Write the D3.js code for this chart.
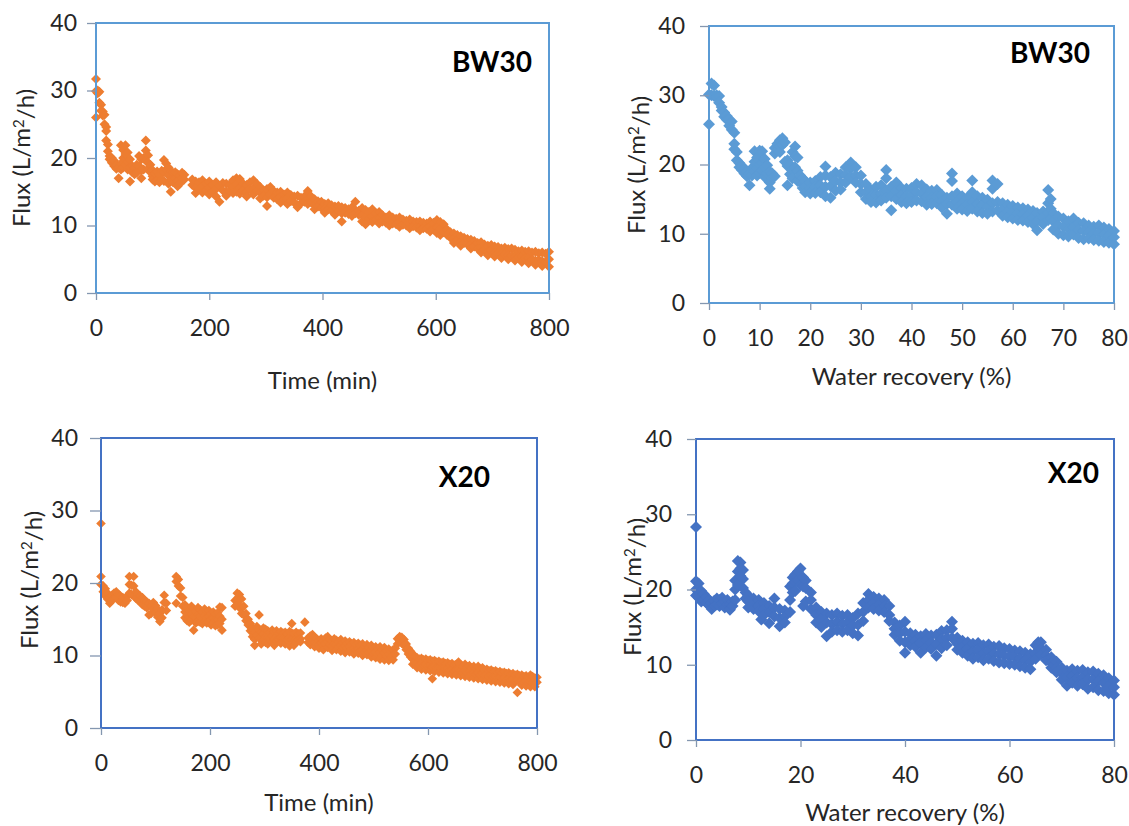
<!DOCTYPE html>
<html>
<head>
<meta charset="utf-8">
<script src="https://d3js.org/d3.v7.min.js"></script>
<style>
  body { margin: 0; background: #fff; }
  svg text { font-family: Lato, "Open Sans", sans-serif; fill: #262626; }
</style>
</head>
<body>
<div id="chart"></div>
<script>
// each row: [x, flux readings at that x ...]
const bw30Time = [
  [0, 31.7, 26.0, 29.9], [3, 30.0, 29.6], [6, 29.8, 28.2], [9, 27.9, 27.0], [12, 26.9, 26.3],
  [15, 26.4, 25.0], [18, 24.6, 24.0, 22.6], [21, 22.0, 21.0], [24, 20.3, 19.8], [28, 20.0, 19.3],
  [32, 19.6, 18.8], [36, 19.0, 18.4], [40, 18.6, 17.0], [44, 21.9, 19.2, 18.3], [48, 21.2, 20.0, 18.6],
  [52, 21.9, 20.6, 19.0], [56, 20.8, 19.4, 18.3], [60, 19.8, 18.6, 16.5], [64, 18.8, 17.9], [68, 18.5, 17.6],
  [72, 19.0, 17.8], [76, 20.3, 18.8], [80, 19.8, 17.0, 18.2], [84, 20.0, 18.3], [88, 22.6, 21.1, 19.6],
  [92, 20.4, 19.3, 18.4], [96, 19.0, 17.9], [100, 18.2, 17.3, 16.8], [104, 17.7, 16.5], [108, 18.0, 16.7],
  [112, 17.5, 16.4], [116, 18.1, 16.8], [120, 19.7, 17.9, 16.6], [124, 19.2, 18.3], [128, 18.6, 17.4, 16.2],
  [132, 18.0, 16.8, 15.0], [136, 17.8, 16.4], [140, 17.9, 17.0], [144, 17.6, 16.6, 15.8], [148, 17.4, 16.2],
  [152, 17.8, 17.0], [156, 17.5, 16.8],
  [170, 16.8, 16.0], [176, 16.5, 15.6, 14.8], [182, 16.4, 15.4], [188, 16.7, 15.8, 14.9], [194, 16.2, 15.2],
  [200, 16.5, 15.6, 14.6], [206, 16.0, 15.0], [212, 16.4, 15.4, 14.3], [218, 15.9, 13.5], [224, 16.3, 15.2],
  [230, 16.2, 15.0, 14.4], [236, 16.0, 15.1], [242, 16.7, 15.7, 14.8], [248, 17.0, 16.1, 15.0], [254, 16.9, 15.6, 14.7],
  [260, 16.2, 15.2], [266, 16.0, 15.0, 14.3], [272, 16.4, 15.4], [278, 16.7, 15.5, 14.6], [284, 16.2, 15.1],
  [290, 15.7, 14.9, 14.0], [296, 15.2, 14.4], [302, 15.4, 14.2, 12.9], [308, 15.7, 14.6], [314, 15.1, 14.1],
  [320, 14.9, 13.9], [326, 15.0, 14.2, 13.4], [332, 14.6, 13.8], [338, 14.9, 14.0, 13.2], [344, 14.5, 13.6],
  [350, 14.3, 13.4], [356, 14.4, 13.0, 12.7], [362, 14.1, 13.3], [368, 14.3, 13.5], [374, 15.1, 14.0, 13.2],
  [380, 14.3, 13.4], [386, 13.9, 13.0, 12.4], [392, 13.6, 12.8], [398, 13.5, 12.6], [404, 13.2, 12.5, 11.9],
  [410, 13.3, 12.4], [416, 13.0, 12.2], [422, 12.8, 12.0, 11.6], [428, 12.9, 12.2], [434, 12.7, 11.8, 10.6],
  [440, 12.6, 11.9], [446, 12.4, 11.7], [452, 12.7, 12.0, 11.4], [458, 13.5, 12.3, 11.8], [464, 12.2, 11.6],
  [470, 12.6, 11.5, 10.6], [476, 12.3, 11.2, 10.2], [482, 12.0, 11.0], [488, 12.4, 11.3, 10.5], [494, 11.8, 10.9],
  [500, 12.0, 11.1, 10.3], [506, 11.5, 10.6], [512, 11.2, 10.4], [518, 11.5, 10.7, 10.0], [524, 11.2, 10.3],
  [530, 11.0, 10.2], [536, 11.2, 10.5, 9.8], [542, 10.9, 10.1], [548, 10.7, 10.0], [554, 10.9, 10.2, 9.6],
  [560, 10.6, 9.9], [566, 10.5, 9.7], [572, 10.6, 9.9, 9.3], [578, 10.4, 9.6], [584, 10.3, 9.5],
  [590, 10.6, 9.8, 9.1], [596, 10.4, 9.4], [602, 10.8, 9.7, 8.9], [608, 10.5, 9.5, 8.6], [614, 10.2, 9.0],
  [620, 9.4, 8.6], [626, 9.0, 8.2], [632, 8.8, 8.0, 7.4], [638, 8.6, 7.8], [644, 8.4, 7.6, 7.0],
  [650, 8.2, 7.4], [656, 8.0, 7.2], [662, 7.9, 7.1, 6.6], [668, 7.7, 6.9], [674, 7.4, 6.6],
  [680, 7.5, 6.7, 6.0], [686, 7.2, 6.4], [692, 7.0, 6.2, 5.6], [698, 7.1, 6.3], [704, 6.9, 6.0, 5.4],
  [710, 6.8, 5.9], [716, 6.6, 5.8, 5.2], [722, 6.7, 5.7], [728, 6.5, 5.6, 5.0], [734, 6.6, 5.5],
  [740, 6.4, 5.4, 4.8], [746, 6.2, 5.3], [752, 6.3, 5.4, 4.6], [758, 6.1, 5.1], [764, 6.2, 5.2, 4.4],
  [770, 6.0, 5.0], [776, 6.1, 4.8, 4.2], [782, 5.9, 4.9], [788, 6.0, 4.7, 4.0], [794, 5.8, 4.6],
  [800, 6.1, 5.0, 3.9]
];

const bw30Recovery = [
  [0, 25.8, 30.1], [0.5, 31.7, 30.0], [1, 31.4, 29.9], [1.5, 30.0, 29.7], [2, 29.9, 28.9],
  [2.5, 28.3, 27.8], [3, 27.5, 26.9], [3.5, 27.0, 26.5], [4, 26.5, 25.6], [4.5, 26.2, 25.0],
  [5, 24.6, 23.0, 22.2], [5.5, 21.8, 20.6], [6, 20.2, 19.6], [6.5, 19.8, 19.2], [7, 19.4, 18.7],
  [7.5, 18.9, 18.3], [8, 18.6, 17.0], [8.5, 19.5, 18.4], [9, 21.9, 20.4, 19.0], [9.5, 21.0, 19.5, 18.4],
  [10, 22.0, 20.0, 18.8], [10.5, 21.9, 20.2, 19.1], [11, 20.8, 19.6, 18.2], [11.5, 19.9, 18.7], [12, 19.0, 17.4, 16.5],
  [12.5, 18.7, 18.0], [13, 22.4, 21.6, 18.3], [13.5, 23.0, 22.1], [14, 23.5, 22.6, 21.8], [14.5, 23.8, 22.8],
  [15, 23.2, 20.4], [15.5, 20.6, 19.8, 17.0], [16, 20.0, 18.6], [16.5, 21.8, 19.2, 18.0], [17, 22.6, 21.2, 19.6],
  [17.5, 21.0, 19.1, 17.6], [18, 18.4, 17.6], [18.5, 18.0, 17.2, 16.6], [19, 17.6, 16.8, 16.0], [20, 17.4, 16.5, 15.8],
  [21, 17.6, 16.8, 15.9], [22, 18.2, 17.0, 16.0], [23, 19.7, 18.4, 16.8, 15.4], [24, 18.2, 16.9, 15.2], [25, 18.8, 17.6, 16.2],
  [26, 18.6, 17.4, 16.4], [27, 19.6, 18.5, 17.4], [28, 20.3, 19.4, 18.2], [29, 19.6, 18.4, 17.4], [30, 18.4, 17.2, 16.0],
  [31, 17.2, 16.0, 15.0], [32, 16.3, 15.4, 14.6], [33, 16.8, 15.6, 14.5], [34, 17.0, 15.8, 14.8], [35, 19.2, 18.0, 16.2, 15.2],
  [36, 16.8, 15.4, 13.4], [37, 17.4, 16.2, 15.0], [38, 16.6, 15.6, 14.6], [39, 16.5, 15.4, 14.4], [40, 16.6, 15.6, 14.6],
  [41, 17.2, 16.0, 14.8], [42, 17.0, 15.8, 14.7], [43, 16.4, 15.3, 14.2], [44, 16.2, 15.2, 14.3], [45, 16.3, 15.4, 14.4],
  [46, 15.6, 14.7, 13.8], [47, 15.2, 14.3, 12.9], [48, 18.7, 17.6, 15.4, 14.2], [49, 15.8, 14.6, 13.6], [50, 15.4, 14.4, 13.5],
  [51, 15.2, 14.2, 13.3], [52, 17.7, 16.0, 14.6, 13.6], [53, 15.4, 14.3, 13.2], [54, 15.2, 14.1, 13.0], [55, 14.9, 13.9, 12.9],
  [56, 17.7, 16.5, 14.4, 13.2], [57, 17.2, 14.6, 13.4], [58, 14.4, 13.5, 12.6], [59, 14.2, 13.2, 12.4], [60, 14.0, 13.1, 12.2],
  [61, 13.8, 12.9, 12.0], [62, 13.7, 12.8, 11.9], [63, 13.5, 12.6, 11.7], [64, 13.3, 12.4, 11.4], [64.8, 13.0, 11.8, 10.5],
  [66, 13.2, 12.3, 11.4], [67, 16.3, 14.4, 13.0, 12.0], [67.5, 15.0, 13.6, 12.2], [68, 13.0, 11.8, 10.6], [69, 12.5, 11.2, 10.0],
  [70, 12.2, 11.0, 9.8], [71, 11.8, 10.7, 9.6], [72, 12.2, 11.0, 9.9], [73, 11.6, 10.5, 9.4], [74, 11.5, 10.4, 9.2],
  [75, 11.2, 10.2, 9.3], [76, 11.0, 10.0, 9.1], [77, 11.2, 10.1, 9.0], [78, 10.9, 9.9, 8.8], [79, 10.7, 9.7, 8.7],
  [80, 10.4, 9.5, 8.5]
];

const x20Time = [
  [0, 28.2, 20.9, 19.8], [4, 19.6, 18.8], [8, 19.2, 18.2], [12, 18.6, 17.8], [16, 18.0, 17.2],
  [20, 18.3, 17.6], [24, 18.6, 17.9], [28, 18.8, 18.0], [32, 18.4, 17.6], [36, 18.2, 17.4],
  [40, 18.0, 17.3], [44, 17.8, 17.2], [48, 18.2, 17.6], [52, 20.9, 19.8, 18.6], [56, 19.7, 18.4],
  [60, 20.9, 19.6, 18.2], [64, 18.8, 17.9], [68, 18.4, 17.6], [72, 18.2, 17.4], [76, 18.0, 17.0],
  [80, 17.6, 16.8], [84, 17.4, 16.6], [88, 17.2, 15.6], [92, 16.8, 15.8], [96, 17.3, 16.4],
  [100, 16.9, 15.9], [104, 16.4, 15.3], [108, 15.8, 14.7], [112, 16.3, 15.2], [116, 18.3, 17.3],
  [120, 17.2, 16.2],
  [138, 20.9, 20.2, 17.2], [142, 20.5, 19.6], [146, 19.3, 18.2], [150, 18.0, 16.8], [154, 17.0, 16.0, 15.2],
  [158, 16.6, 15.6, 14.8], [162, 16.2, 15.3, 14.6], [166, 16.8, 15.7, 14.9], [170, 16.4, 15.4, 13.5], [174, 16.1, 15.2, 14.5],
  [178, 16.6, 15.6, 14.7], [182, 16.3, 15.4, 14.6], [186, 16.0, 15.1, 14.4], [190, 16.4, 15.5, 14.7], [194, 16.1, 15.2, 14.5],
  [198, 16.2, 15.4, 14.6], [202, 15.8, 15.0, 14.2], [206, 16.0, 15.2, 14.4], [210, 15.7, 14.9, 14.1], [214, 15.9, 15.0, 14.2],
  [218, 16.7, 15.4, 14.4], [222, 16.6, 15.0, 13.5],
  [246, 17.6, 16.8], [250, 18.6, 17.8, 17.0], [254, 18.4, 17.6, 16.6], [258, 17.8, 16.6, 15.8], [262, 16.8, 15.6],
  [266, 15.8, 14.8], [270, 15.0, 14.2], [274, 14.4, 13.4], [278, 13.8, 12.6], [282, 13.2, 12.2, 11.4],
  [286, 14.0, 12.8], [290, 15.6, 13.6, 12.4], [294, 13.2, 12.2, 11.6], [298, 13.8, 13.0, 12.2], [302, 13.6, 12.6, 11.8],
  [306, 13.4, 12.5, 11.6], [310, 13.2, 12.4], [314, 13.5, 12.7, 11.9], [318, 13.2, 12.3, 11.4], [322, 13.4, 12.6, 12.0],
  [326, 13.0, 12.2], [330, 13.3, 12.5, 11.7], [334, 13.1, 12.4], [338, 13.2, 12.3, 11.6], [342, 13.0, 12.1],
  [346, 13.3, 12.4, 11.3], [350, 14.4, 13.1, 12.2], [354, 13.0, 12.0, 11.4], [358, 13.2, 12.2, 11.8], [362, 13.0, 12.1],
  [366, 13.1, 12.3, 11.9], [374, 14.6], [380, 12.4, 11.8], [384, 12.7, 12.0, 11.5], [388, 12.9, 12.2, 11.7],
  [392, 12.5, 11.8, 11.2], [396, 12.3, 11.6], [400, 12.1, 11.5, 11.0], [404, 12.3, 11.7], [408, 12.0, 11.4, 10.8],
  [412, 12.4, 11.6], [416, 12.6, 11.9, 11.1], [420, 12.2, 11.5], [424, 12.0, 11.3, 10.7], [428, 12.3, 11.6],
  [432, 12.1, 11.4, 10.8], [436, 11.9, 11.2], [440, 12.2, 11.4, 10.6], [444, 11.8, 11.1], [448, 12.0, 11.3, 10.4],
  [452, 11.7, 11.0], [456, 11.9, 11.2, 10.5], [460, 11.6, 10.9], [464, 11.8, 11.0, 10.2], [468, 11.5, 10.8],
  [472, 11.7, 10.9, 10.3], [476, 11.4, 10.7], [480, 11.6, 10.8, 10.0], [484, 11.2, 10.5], [488, 11.5, 10.7, 10.1],
  [492, 11.1, 10.4], [496, 11.4, 10.6, 9.8], [500, 11.0, 10.3], [504, 11.2, 10.5, 9.7], [508, 10.9, 10.2],
  [512, 11.2, 10.4, 9.5], [516, 10.8, 10.0], [520, 11.1, 10.3, 9.4], [524, 10.7, 9.9], [528, 10.9, 10.2, 9.3],
  [532, 10.6, 9.8], [536, 10.8, 10.0, 9.4], [540, 11.0, 10.2], [544, 12.3, 11.6], [548, 12.6, 12.0],
  [552, 12.5, 11.7], [556, 12.2, 11.4], [560, 11.6, 10.8], [564, 11.0, 10.2], [568, 10.6, 9.8],
  [572, 10.2, 9.5, 8.8], [576, 9.9, 9.2], [580, 9.7, 8.9, 8.3], [584, 9.5, 8.7], [588, 9.6, 8.9, 8.1],
  [592, 9.4, 8.6], [596, 9.5, 8.8, 8.0], [600, 9.3, 8.5], [604, 9.4, 8.6, 7.9], [608, 9.2, 8.4, 6.8],
  [612, 9.3, 8.5, 7.8], [616, 9.1, 8.3], [620, 9.2, 8.4, 7.7], [624, 9.0, 8.2], [628, 9.1, 8.3, 7.6],
  [632, 8.9, 8.1], [636, 9.0, 8.2, 7.5], [640, 8.8, 8.0], [644, 8.9, 8.1, 7.4], [648, 8.7, 7.9],
  [652, 8.8, 8.0, 7.3], [656, 9.1, 8.1], [660, 8.7, 7.9, 7.2], [664, 8.5, 7.7], [668, 8.8, 7.9, 7.1],
  [672, 8.4, 7.6], [676, 8.6, 7.8, 7.0], [680, 8.3, 7.5], [684, 8.5, 7.7, 6.9], [688, 8.2, 7.4],
  [692, 8.5, 7.6, 6.8], [696, 8.1, 7.3], [700, 8.3, 7.5, 6.7], [704, 8.0, 7.2], [708, 8.1, 7.3, 6.6],
  [712, 7.9, 7.1], [716, 8.0, 7.2, 6.5], [720, 7.8, 7.0], [724, 7.9, 7.1, 6.4], [728, 7.7, 6.9],
  [732, 7.8, 7.0, 6.3], [736, 7.6, 6.8], [740, 7.7, 6.9, 6.2], [744, 7.5, 6.7], [748, 7.6, 6.8, 6.1],
  [752, 7.4, 6.6], [756, 7.5, 6.7, 6.0], [760, 7.3, 6.5], [764, 7.4, 6.6, 4.9], [768, 7.2, 6.4],
  [772, 7.3, 6.5, 5.9], [776, 7.1, 6.3], [780, 7.2, 6.4, 5.8], [784, 7.0, 6.2], [788, 7.3, 6.3, 5.7],
  [792, 7.1, 6.2], [796, 6.9, 6.1, 5.7], [800, 7.0, 6.3]
];

const x20Recovery = [
  [0, 28.3, 21.1, 20.0, 19.2], [0.5, 20.8, 19.6, 18.9], [1, 19.8, 19.0, 18.4], [1.5, 19.4, 18.6], [2, 19.0, 18.2],
  [2.5, 18.6, 17.9], [3, 18.2, 17.4], [3.5, 18.5, 17.8], [4, 18.8, 18.0], [4.5, 18.6, 17.8],
  [5, 18.9, 18.1], [5.5, 18.4, 17.6], [6, 18.6, 17.9], [6.5, 18.0, 17.3], [7, 18.4, 17.8],
  [7.5, 21.2, 20.0, 18.6], [8, 23.8, 22.4, 20.6], [8.5, 23.6, 22.8, 21.8], [9, 22.6, 21.4, 20.2], [9.5, 19.6, 18.8],
  [10, 19.2, 18.4, 17.6], [11, 18.8, 18.0, 17.4], [12, 18.6, 17.8, 17.1], [12.5, 16.0], [13, 18.2, 17.4, 16.6],
  [14, 17.8, 17.0, 15.5], [15, 18.8, 17.6, 16.4], [16, 17.4, 16.2, 15.1], [17, 17.2, 16.4, 15.6], [18, 20.4, 18.6, 17.0],
  [18.5, 21.6, 20.8, 19.6], [19, 22.0, 21.0, 19.8], [19.5, 22.4, 21.2], [20, 22.8, 21.6, 20.6], [20.5, 21.6, 20.4, 17.8],
  [21, 21.2, 20.2, 18.4], [22, 19.6, 18.6, 17.4], [23, 17.6, 16.6, 15.6], [24, 17.0, 16.0, 15.0], [25, 16.8, 15.6, 13.8],
  [26, 16.6, 15.4, 14.4], [27, 16.8, 15.7, 14.6], [28, 16.5, 15.4, 14.4], [29, 16.6, 15.6, 14.6], [30, 16.2, 15.2, 14.2],
  [31, 16.8, 15.3, 13.9], [32, 18.2, 17.0, 15.8], [33, 19.4, 18.6, 17.6], [34, 19.0, 18.2, 17.4], [35, 18.8, 18.0, 17.2],
  [36, 18.6, 17.8, 17.0], [37, 17.8, 16.6, 15.8], [38, 15.6, 14.8, 14.0], [39, 15.2, 14.2, 13.2], [40, 15.7, 14.4, 13.0, 11.6],
  [41, 14.2, 13.4, 12.6], [42, 14.0, 13.2, 12.4], [43, 13.8, 12.9, 11.6], [44, 14.1, 13.2, 12.3], [45, 13.9, 13.0, 12.1],
  [46, 14.0, 12.8, 11.2], [47, 14.5, 13.4, 12.2], [48, 14.6, 13.6, 12.6], [49, 15.7, 14.8, 13.6], [50, 13.6, 12.8, 12.0],
  [51, 13.2, 12.4, 11.6], [52, 13.0, 12.1, 11.2], [53, 12.8, 11.8, 10.8], [54, 12.9, 12.0, 11.0], [55, 12.6, 11.6, 10.6],
  [56, 12.7, 11.8, 10.8], [57, 12.4, 11.5, 10.5], [58, 12.5, 11.4, 10.3], [59, 12.2, 11.2, 10.2], [60, 12.1, 11.1, 10.1],
  [61, 11.9, 11.0, 10.0], [62, 11.8, 10.8, 9.8], [63, 11.6, 10.6, 9.6], [64, 11.4, 10.4, 9.4], [65, 12.6, 11.6, 10.8],
  [65.5, 13.0, 12.3], [66, 13.0, 12.2, 11.4], [67, 12.0, 11.2, 10.6], [68, 11.0, 10.2, 9.6], [69, 10.4, 9.6, 9.0],
  [70, 9.6, 8.8, 8.0], [71, 9.2, 8.3, 7.2], [72, 9.4, 8.5, 7.6], [73, 9.2, 8.2, 7.2], [74, 9.3, 8.3, 7.4],
  [75, 9.0, 8.0, 6.8], [76, 9.1, 8.1, 7.0], [77, 8.8, 7.8, 6.6], [78, 8.6, 7.6, 6.5], [79, 8.2, 7.2, 6.2],
  [80, 7.9, 7.0, 6.0]
];

const yTicks = [0, 10, 20, 30, 40];
const timeTicks = [0, 200, 400, 600, 800];
const recTicksTop = [0, 10, 20, 30, 40, 50, 60, 70, 80];
const recTicksBottom = [0, 20, 40, 60, 80];

const W = 1129, H = 826;
const svg = d3.select("#chart").append("svg")
    .attr("width", W)
    .attr("height", H);

// layout of the four panels
const panels = [
  {rows: bw30Time, xMax: 800, xTicks: timeTicks, xTitle: "Time (min)", tag: "BW30",
   color: "#ED7D31", frame: "#5B9BD5", box: {l: 96, r: 549, t: 23, b: 293}, mark: 50,
   yTick: 9, yPad: 10, xLab: 35, xTitleDy: 88, yTitleX: 22, yTitleY: 158, tagDx: 17, tagY: 72},
  {rows: bw30Recovery, xMax: 80, xTicks: recTicksTop, xTitle: "Water recovery (%)", tag: "BW30",
   color: "#5B9BD5", frame: "#5B9BD5", box: {l: 709, r: 1114, t: 26, b: 303}, mark: 72,
   yTick: 9, yPad: 15, xLab: 35, xTitleDy: 74, yTitleX: 637, yTitleY: 165, tagDx: 24, tagY: 63},
  {rows: x20Time, xMax: 800, xTicks: timeTicks, xTitle: "Time (min)", tag: "X20",
   color: "#ED7D31", frame: "#4472C4", box: {l: 101, r: 537, t: 438, b: 728}, mark: 46,
   yTick: 11, yPad: 12, xLab: 35, xTitleDy: 75, yTitleX: 30, yTitleY: 580, tagDx: 47, tagY: 487},
  {rows: x20Recovery, xMax: 80, xTicks: recTicksBottom, xTitle: "Water recovery (%)", tag: "X20",
   color: "#4472C4", frame: "#4472C4", box: {l: 696, r: 1114, t: 439, b: 740}, mark: 72,
   yTick: 9, yPad: 15, xLab: 35, xTitleDy: 73, yTitleX: 633, yTitleY: 587, tagDx: 15, tagY: 483}
];

panels.forEach(function(p) {
  var b = p.box;
  var x = d3.scaleLinear().domain([0, p.xMax]).range([b.l, b.r]);
  var y = d3.scaleLinear().domain([0, 40]).range([b.b, b.t]);
  var g = svg.append("g");

  var pts = p.rows.flatMap(function(r) {
    return r.slice(1).map(function(v) { return {x: r[0], y: v}; });
  });

  // points (square turned 45deg = excel diamond)
  var sym = d3.symbol().type(d3.symbolSquare).size(p.mark);
  g.append("g")
    .selectAll("path")
    .data(pts)
    .enter()
    .append("path")
      .attr("d", sym)
      .attr("transform", function(d) { return "translate(" + x(d.x) + "," + y(d.y) + ") rotate(45)"; })
      .style("fill", p.color);

  // frame
  g.append("rect")
    .attr("x", b.l).attr("y", b.t)
    .attr("width", b.r - b.l).attr("height", b.b - b.t)
    .style("fill", "none")
    .style("stroke", p.frame)
    .style("stroke-width", 2);

  //Y axis
  var ya = g.append("g")
    .attr("transform", "translate(" + b.l + ",0)")
    .call(d3.axisLeft(y).tickValues(yTicks).tickSize(p.yTick).tickPadding(p.yPad));
  //X axis
  var xa = g.append("g")
    .attr("transform", "translate(0," + b.b + ")")
    .call(d3.axisBottom(x).tickValues(p.xTicks).tickSize(7).tickPadding(p.xLab - 15));

  [ya, xa].forEach(function(a) {
    a.select(".domain").remove();
    a.selectAll("line").style("stroke", "#8497b0").style("stroke-width", 1.3);
    a.selectAll("text").style("font-size", "23px").style("fill", "#262626");
  });

  //x title
  g.append("text")
    .attr("x", (b.l + b.r) / 2)
    .attr("y", b.b + p.xTitleDy + 8)
    .style("text-anchor", "middle")
    .style("font-size", "24px")
    .text(p.xTitle);

  //y title
  var yt = g.append("text")
    .attr("transform", "translate(" + p.yTitleX + "," + p.yTitleY + ") rotate(-90)")
    .attr("dy", "0.35em")
    .style("text-anchor", "middle")
    .style("font-size", "24px");
  yt.append("tspan").text("Flux (L/m");
  yt.append("tspan").attr("dy", "-0.4em").style("font-size", "15px").text("2");
  yt.append("tspan").attr("dy", "0.4em").text("/h)");

  //panel tag
  g.append("text")
    .attr("x", b.r - p.tagDx)
    .attr("y", p.tagY)
    .style("text-anchor", "end")
    .style("font-size", "28px")
    .style("font-weight", "bold")
    .style("fill", "#000")
    .text(p.tag);
});
</script>
</body>
</html>
